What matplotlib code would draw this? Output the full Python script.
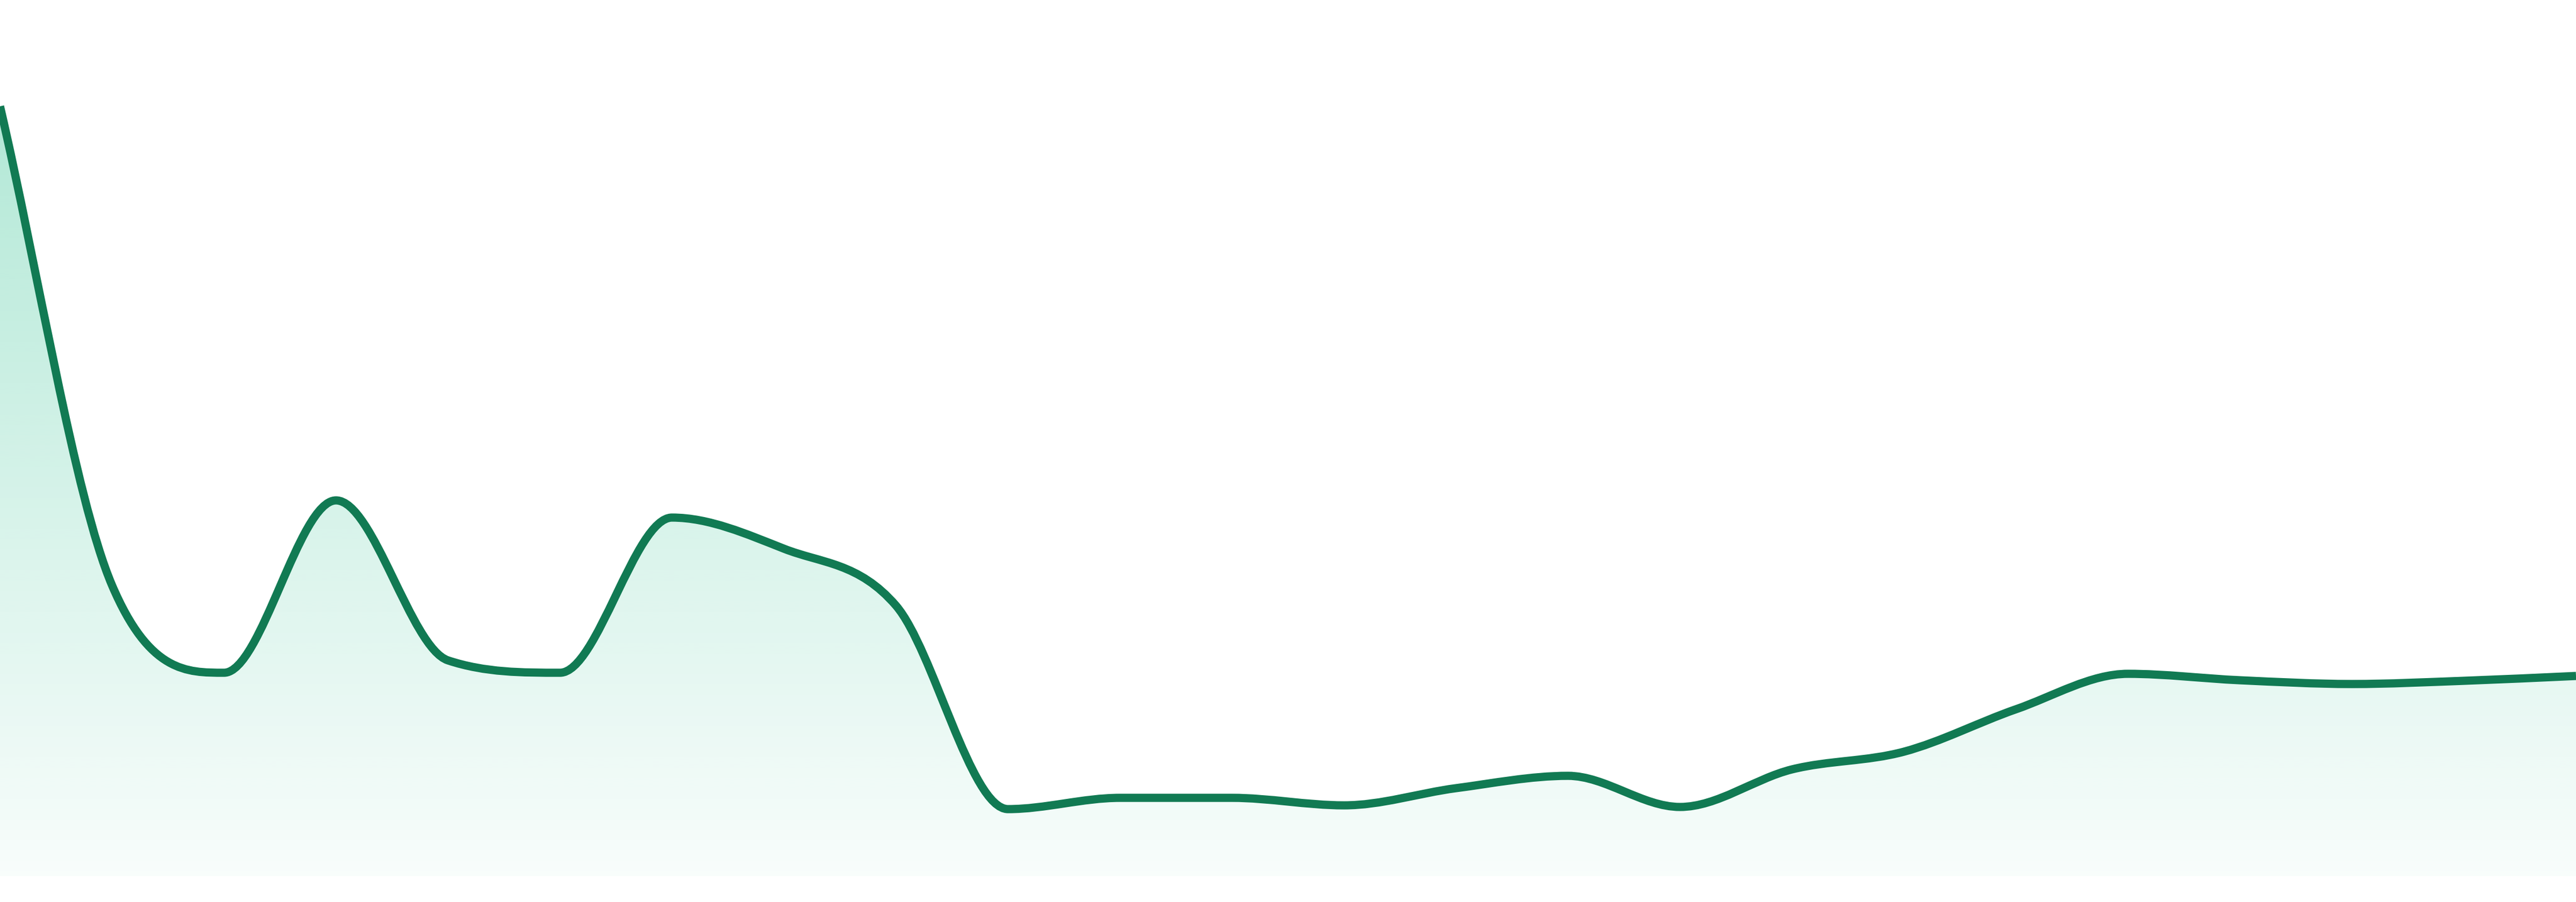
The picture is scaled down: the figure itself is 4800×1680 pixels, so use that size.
import numpy as np
import matplotlib
matplotlib.use("Agg")
import matplotlib.pyplot as plt
from matplotlib.path import Path
from matplotlib.patches import PathPatch

# values, one per step
points = list(range(24))
values = [143.4, 54.2, 37.9, 70.0, 40.2, 37.9, 66.8, 61.0, 50.4, 12.5, 14.6, 14.6,
          13.2, 16.4, 18.7, 12.9, 19.9, 23.2, 31.1, 37.7, 36.5, 35.8, 36.4, 37.3]

y_max = 163.2
line_color = "#117a53"
fill_rgb = (16 / 255, 185 / 255, 129 / 255)


def monotone_tangents(xs, ys):
    # same rules as chart.js "monotone" cubic interpolation
    xs = np.asarray(xs, dtype=float)
    ys = np.asarray(ys, dtype=float)
    n = len(xs)
    delta = np.diff(ys) / np.diff(xs)
    m = np.zeros(n)
    m[0] = delta[0]
    m[-1] = delta[-1]
    for i in range(1, n - 1):
        if np.sign(delta[i - 1]) != np.sign(delta[i]):
            m[i] = 0
        else:
            m[i] = (delta[i - 1] + delta[i]) / 2
    for i in range(n - 1):
        if abs(delta[i]) < 1e-9:
            m[i] = 0
            m[i + 1] = 0
            continue
        a = m[i] / delta[i]
        b = m[i + 1] / delta[i]
        mag = a * a + b * b
        if mag <= 9:
            continue
        tau = 3 / np.sqrt(mag)
        m[i] = a * tau * delta[i]
        m[i + 1] = b * tau * delta[i]
    return m


def curve_vertices(xs, ys):
    m = monotone_tangents(xs, ys)
    verts = [(xs[0], ys[0])]
    codes = [Path.MOVETO]
    for i in range(len(xs) - 1):
        d = (xs[i + 1] - xs[i]) / 3
        verts.append((xs[i] + d, ys[i] + d * m[i]))
        verts.append((xs[i + 1] - d, ys[i + 1] - d * m[i + 1]))
        verts.append((xs[i + 1], ys[i + 1]))
        codes += [Path.CURVE4] * 3
    return verts, codes


def main():
    fig = plt.figure(figsize=(48, 16.8), dpi=100)
    ax = fig.add_axes([0, 48 / 1680, 1, 1632 / 1680])
    ax.set_xlim(points[0], points[-1])
    ax.set_ylim(0, y_max)
    ax.axis("off")

    verts, codes = curve_vertices(points, values)

    # area under the curve
    fill_verts = verts + [(points[-1], 0), (points[0], 0), (points[0], values[0])]
    fill_codes = codes + [Path.LINETO, Path.LINETO, Path.CLOSEPOLY]
    area = PathPatch(Path(fill_verts, fill_codes), facecolor="none", edgecolor="none")
    ax.add_patch(area)

    rows = 400
    grad = np.zeros((rows, 2, 4))
    grad[..., 0] = fill_rgb[0]
    grad[..., 1] = fill_rgb[1]
    grad[..., 2] = fill_rgb[2]
    grad[..., 3] = np.linspace(0.36, 0.03, rows)[:, None]
    img = ax.imshow(grad, extent=[points[0], points[-1], 0, y_max], origin="upper",
                    aspect="auto", interpolation="bilinear", zorder=1)
    img.set_clip_path(area)

    line = PathPatch(Path(verts, codes), facecolor="none", edgecolor=line_color,
                     linewidth=11, joinstyle="round", zorder=2)
    ax.add_patch(line)

    fig.savefig("out.png", dpi=100, facecolor="white")


if __name__ == "__main__":
    main()
